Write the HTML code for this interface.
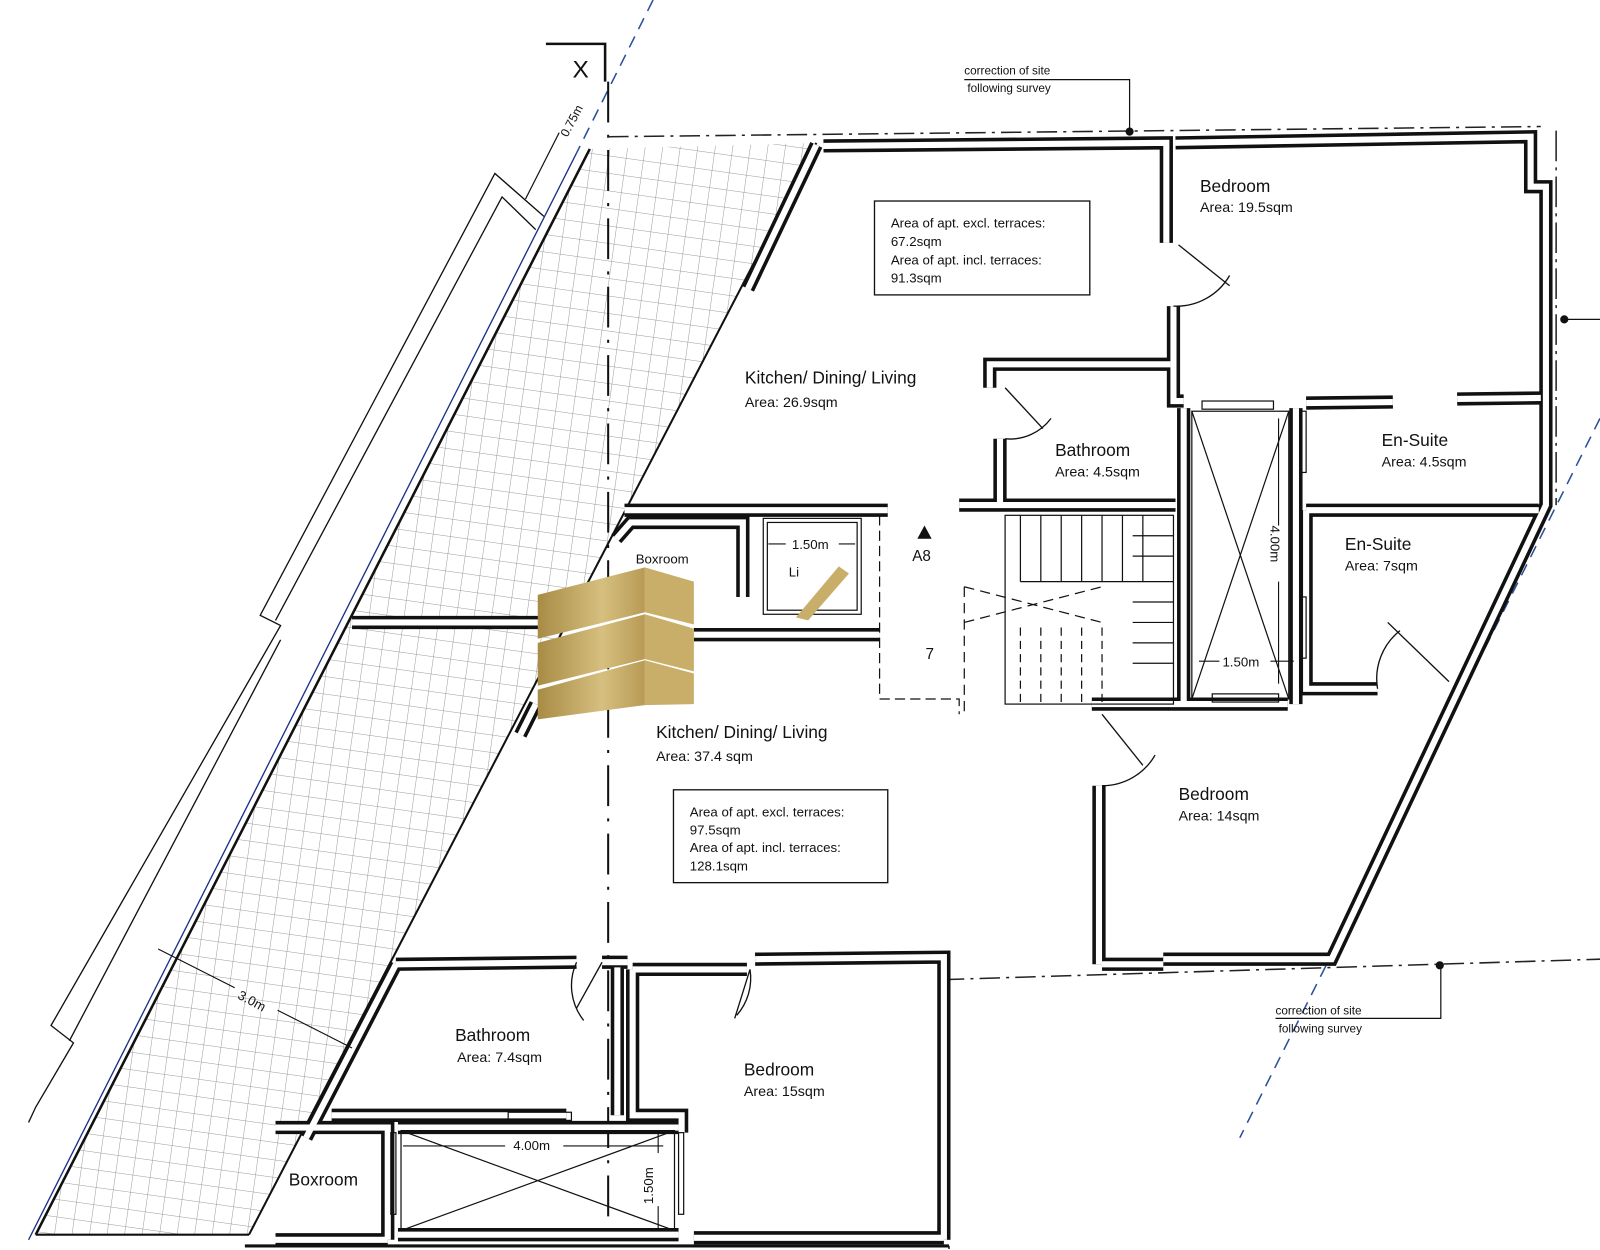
<!DOCTYPE html>
<html><head><meta charset="utf-8"><style>
html,body{margin:0;padding:0;background:#fff;}
svg{display:block;}
text{font-family:"Liberation Sans",sans-serif;fill:#111;}
</style></head><body>
<svg width="1600" height="1250" viewBox="0 0 1568 1225" xmlns="http://www.w3.org/2000/svg">
<defs>
<pattern id="grid" width="17" height="17" patternUnits="userSpaceOnUse" patternTransform="rotate(8)">
<path d="M0 0H17M0 0V17" stroke="#9a9a9a" stroke-width="1" fill="none"/>
</pattern>
<linearGradient id="gold" x1="0" y1="0" x2="1" y2="0">
<stop offset="0" stop-color="#a88b45"/><stop offset="0.6" stop-color="#d6bf7f"/><stop offset="1" stop-color="#b89a55"/>
</linearGradient>
<g id="walls" fill="none" stroke-linejoin="miter">
<path d="M800,142 L733,283"/>
<path d="M807,143 L1143,140 L1143,238"/>
<path d="M1150,300 L1150,393 L1160,393"/>
<path d="M1152,140 L1500,134 L1500,183 L1515,183 L1515,495 L1305,940 L1140,940"/>
<path d="M970,380 L970,357 L1147,357"/>
<path d="M980,430 L980,493"/>
<path d="M940,495 L1152,495"/>
<path d="M1160,400 L1160,690"/>
<path d="M1270,400 L1270,690"/>
<path d="M1280,395 L1365,394"/>
<path d="M1428,391 L1510,390"/>
<path d="M1280,500 L1508,500"/>
<path d="M1280,500 L1280,675 L1350,675"/>
<path d="M1070,690 L1262,690"/>
<path d="M1077,770 L1077,945"/>
<path d="M1080,945 L1140,945"/>
<path d="M612,500 L870,500"/>
<path d="M604,528 L618,512 L728,512 L728,585"/>
<path d="M345,610 L530,610"/>
<path d="M680,622 L862,622"/>
<path d="M388,945 L565,943"/>
<path d="M590,943 L615,943"/>
<path d="M740,940 L925,938 L925,1215"/>
<path d="M605,948 L605,1093"/>
<path d="M620,950 L620,1093 L668,1093 L668,1110"/>
<path d="M620,950 L732,950"/>
<path d="M388,945 L300,1115"/>
<path d="M325,1093 L555,1093"/>
<path d="M270,1105 L380,1105 L380,1215"/>
<path d="M390,1105 L665,1105"/>
<path d="M390,1210 L665,1210"/>
<path d="M270,1215 L380,1215"/>
<path d="M680,1213 L925,1213"/>
<path d="M510,720 L525,690"/>
</g>
</defs>

<polygon points="578,146 800,140 244,1210 35,1210" fill="url(#grid)"/>
<line x1="578" y1="146" x2="35" y2="1210" stroke="#111" stroke-width="2.5"/>
<line x1="800" y1="140" x2="244" y2="1210" stroke="#111" stroke-width="2"/>
<line x1="35" y1="1210" x2="244" y2="1210" stroke="#111" stroke-width="2"/>
<line x1="640" y1="0" x2="565" y2="150" stroke="#2a4f9a" stroke-width="1.5" stroke-dasharray="12,8"/>
<line x1="565" y1="150" x2="28" y2="1215" stroke="#1a2f8a" stroke-width="1.3"/>
<line x1="1568" y1="410" x2="1215" y2="1115" stroke="#2a4f9a" stroke-width="1.5" stroke-dasharray="12,8"/>
<line x1="1515" y1="495" x2="1305" y2="940" stroke="#1a2f8a" stroke-width="1.3"/>
<g fill="none" stroke="#111" stroke-width="1.3">
<path d="M533,212 L485,170 L255,603 L275,613 L50,1005 L72,1022 L35,1085 L28,1100"/>
<path d="M525,225 L492,193 L270,608"/>
<path d="M275,627 L68,1020"/>
</g>
<line x1="515" y1="195" x2="548" y2="130" stroke="#111" stroke-width="1.2"/>
<text x="0" y="0" font-size="12" transform="translate(556,135) rotate(-62)">0.75m</text>
<path d="M535,43 L593,43 L593,80" fill="none" stroke="#111" stroke-width="2.5"/>
<text x="561" y="76" font-size="24">X</text>
<line x1="596" y1="80" x2="596" y2="1215" stroke="#111" stroke-width="2" stroke-dasharray="40,12,3,12"/>
<line x1="596" y1="134" x2="1510" y2="124" stroke="#222" stroke-width="1.5" stroke-dasharray="20,6,3,6"/>
<line x1="1525" y1="128" x2="1525" y2="495" stroke="#222" stroke-width="1.5" stroke-dasharray="30,6,3,6"/>
<line x1="925" y1="960" x2="1568" y2="940" stroke="#222" stroke-width="1.5" stroke-dasharray="20,6,3,6"/>
<line x1="930" y1="960" x2="930" y2="1225" stroke="#222" stroke-width="1.5" stroke-dasharray="30,6,3,6"/>
<use href="#walls" stroke="#111" stroke-width="13"/>
<use href="#walls" stroke="#fff" stroke-width="6"/>
<line x1="240" y1="1221" x2="930" y2="1221" stroke="#111" stroke-width="3"/>

<g stroke="#111" stroke-width="1.2" fill="none">
<path d="M945,78 L1107,78 L1107,128"/>
<path d="M1250,998 L1412,998 L1412,946"/>
<path d="M1535,313 L1568,313"/>
</g>
<circle cx="1107" cy="129" r="4" fill="#111"/>
<circle cx="1411" cy="946" r="4" fill="#111"/>
<circle cx="1533" cy="313" r="4" fill="#111"/>
<text x="945" y="73" font-size="11.5">correction of site</text>
<text x="948" y="90" font-size="11.5">following survey</text>
<text x="1250" y="994" font-size="11.5">correction of site</text>
<text x="1253" y="1012" font-size="11.5">following survey</text>

<g stroke="#111" stroke-width="1.3" fill="none">
<path d="M1155,240 L1205,280"/><path d="M1205,270 A60,60 0 0 1 1150,300"/>
<path d="M985,380 L1022,420"/><path d="M1030,410 A50,50 0 0 1 985,430"/>
<path d="M1360,610 L1420,668"/><path d="M1372,618 A60,60 0 0 0 1350,675"/>
<path d="M1080,700 L1120,750"/><path d="M1132,740 A60,60 0 0 1 1080,770"/>
<path d="M565,943 A55,55 0 0 0 572,1000"/><path d="M590,943 L565,988"/>
<path d="M735,950 L720,998"/><path d="M735,950 A55,55 0 0 1 722,995"/>
</g>
<g stroke="#111" stroke-width="1.2" fill="none">
<rect x="1168" y="403" width="95" height="282"/>
<path d="M1168,403 L1263,685 M1263,403 L1168,685"/>
<rect x="1178" y="393" width="70" height="8"/><rect x="1188" y="680" width="65" height="8"/>
<rect x="1275" y="403" width="5" height="60"/><rect x="1275" y="585" width="5" height="60"/>
<rect x="393" y="1108" width="268" height="98"/>
<path d="M393,1108 L661,1206 M661,1108 L393,1206"/>
<rect x="498" y="1090" width="62" height="8"/>
<rect x="383" y="1110" width="5" height="80"/><rect x="665" y="1110" width="5" height="80"/>
<rect x="752" y="512" width="88" height="86"/>
<rect x="748" y="508" width="96" height="94"/>
</g>
<g stroke="#111" stroke-width="1.2" fill="none">
<rect x="985" y="505" width="165" height="185"/>
<path d="M1000,505 V570 M1020,505 V570 M1040,505 V570 M1060,505 V570 M1080,505 V570 M1100,505 V570 M1120,505 V570"/>
<path d="M1000,570 H1150 M1110,525 H1150 M1110,545 H1150 M1110,590 H1150 M1110,610 H1150 M1110,630 H1150 M1110,650 H1150"/>
<path d="M1000,615 V690 M1020,615 V690 M1040,615 V690 M1060,615 V690 M1080,615 V690" stroke-dasharray="8,5"/>
<path d="M945,575 L1080,610 M945,610 L1080,575" stroke-dasharray="10,6"/>
<path d="M862,505 V685 H940 V700" stroke-dasharray="10,5"/>
<path d="M945,575 V700" stroke-dasharray="10,6"/>
</g>
<g stroke="#111" stroke-width="1.1">
<line x1="1253" y1="410" x2="1253" y2="515"/><line x1="1253" y1="570" x2="1253" y2="670"/>
<line x1="1175" y1="648" x2="1195" y2="648"/><line x1="1245" y1="648" x2="1268" y2="648"/>
<line x1="395" y1="1123" x2="495" y2="1123"/><line x1="552" y1="1123" x2="650" y2="1123"/>
<line x1="645" y1="1108" x2="645" y2="1130"/><line x1="645" y1="1182" x2="645" y2="1206"/>
<line x1="753" y1="533" x2="770" y2="533"/><line x1="822" y1="533" x2="838" y2="533"/>
<line x1="155" y1="930" x2="230" y2="968"/><line x1="272" y1="990" x2="345" y2="1027"/>
</g>
<text x="1240" y="520" font-size="13" transform="rotate(90 1245 520)">4.00m</text>
<text x="1198" y="653" font-size="13">1.50m</text>
<text x="503" y="1127" font-size="13">4.00m</text>
<text x="640" y="1180" font-size="13" transform="rotate(-90 640 1180)">1.50m</text>
<text x="776" y="538" font-size="13">1.50m</text>
<text x="232" y="978" font-size="13" transform="rotate(28 232 978)">3.0m</text>
<text x="773" y="565" font-size="13">Li</text>
<polygon points="906,515 899,528 913,528" fill="#111"/>
<text x="894" y="550" font-size="15">A8</text>
<text x="907" y="646" font-size="15">7</text>

<rect x="857" y="197" width="211" height="92" fill="none" stroke="#111" stroke-width="1.3"/>
<text font-size="13"><tspan x="873" y="223">Area of apt. excl. terraces:</tspan><tspan x="873" y="241">67.2sqm</tspan><tspan x="873" y="259">Area of apt. incl. terraces:</tspan><tspan x="873" y="277">91.3sqm</tspan></text>
<rect x="660" y="774" width="210" height="91" fill="none" stroke="#111" stroke-width="1.3"/>
<text font-size="13"><tspan x="676" y="800">Area of apt. excl. terraces:</tspan><tspan x="676" y="818">97.5sqm</tspan><tspan x="676" y="835">Area of apt. incl. terraces:</tspan><tspan x="676" y="853">128.1sqm</tspan></text>

<g font-size="17">
<text x="1176" y="188">Bedroom</text>
<text x="730" y="376">Kitchen/ Dining/ Living</text>
<text x="1034" y="447">Bathroom</text>
<text x="1354" y="437">En-Suite</text>
<text x="1318" y="539">En-Suite</text>
<text x="643" y="723">Kitchen/ Dining/ Living</text>
<text x="1155" y="784">Bedroom</text>
<text x="446" y="1020">Bathroom</text>
<text x="729" y="1054">Bedroom</text>
<text x="283" y="1162">Boxroom</text>
</g>
<g font-size="14">
<text x="1176" y="208">Area: 19.5sqm</text>
<text x="730" y="399">Area: 26.9sqm</text>
<text x="1034" y="467">Area: 4.5sqm</text>
<text x="1354" y="457">Area: 4.5sqm</text>
<text x="1318" y="559">Area: 7sqm</text>
<text x="643" y="746">Area: 37.4 sqm</text>
<text x="1155" y="804">Area: 14sqm</text>
<text x="448" y="1041">Area: 7.4sqm</text>
<text x="729" y="1074">Area: 15sqm</text>
<text x="623" y="552" font-size="13">Boxroom</text>
</g>

<g>
<polygon points="527,583 632,556 632,600 527,626" fill="url(#gold)"/>
<polygon points="632,556 680,570 680,612 632,600" fill="#c9ae6a"/>
<polygon points="527,630 632,602 632,646 527,672" fill="url(#gold)"/>
<polygon points="632,602 680,616 680,658 632,646" fill="#c9ae6a"/>
<polygon points="527,676 632,647 632,691 527,705" fill="url(#gold)"/>
<polygon points="632,647 680,660 680,690 632,691" fill="#c9ae6a"/>
<polygon points="780,605 822,555 832,562 792,608" fill="#c9ae6a"/>
</g>
</svg>
</body></html>
